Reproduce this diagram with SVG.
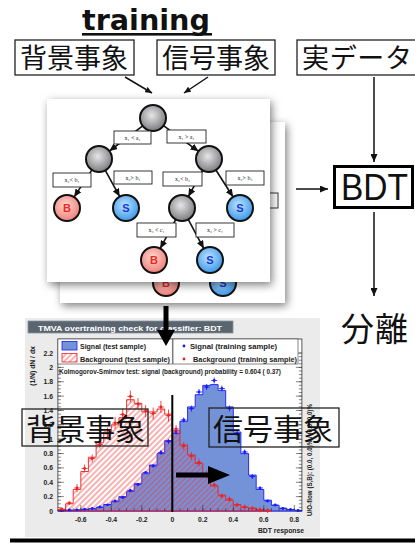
<svg xmlns="http://www.w3.org/2000/svg" width="415" height="543" viewBox="0 0 415 543">
<style>
.jp{font-family:"Noto Sans CJK JP","Noto Sans CJK SC",sans-serif;fill:#111}
.box{fill:none;stroke:#222;stroke-width:1.3}
.conn{stroke:#111;stroke-width:1.5;fill:none}
.edge{stroke:#111;stroke-width:1.6;fill:none}
.lbl{fill:#fff;stroke:#222;stroke-width:0.9}
.lt{font-family:"Liberation Serif",serif;font-size:6px;text-anchor:middle;fill:#222}
.gn{fill:url(#gGray);stroke:#111;stroke-width:2}
.bn{fill:url(#gPink);stroke:#111;stroke-width:2}
.sn{fill:url(#gBlue);stroke:#111;stroke-width:2}
.bl{font-family:"Liberation Sans",sans-serif;font-weight:bold;font-size:11px;text-anchor:middle;fill:#e82a20}
.sl{font-family:"Liberation Sans",sans-serif;font-weight:bold;font-size:11px;text-anchor:middle;fill:#1438d0}
.pt{font-family:"Liberation Sans",sans-serif;font-weight:bold;font-size:6.8px;fill:#222}
</style>
<defs>
<marker id="ah" viewBox="0 0 8 7" refX="8" refY="3.5" markerWidth="8" markerHeight="7" markerUnits="userSpaceOnUse" orient="auto"><path d="M0,0L8,3.5L0,7z" fill="#111"/></marker>
<marker id="ahs" viewBox="0 0 8 7" refX="8" refY="3.5" markerWidth="7" markerHeight="6" markerUnits="userSpaceOnUse" orient="auto"><path d="M0,0L8,3.5L0,7z" fill="#111"/></marker>
<radialGradient id="gGray" cx="0.45" cy="0.4" r="0.6"><stop offset="0" stop-color="#e6e6e6"/><stop offset="1" stop-color="#7c7c80"/></radialGradient>
<radialGradient id="gPink" cx="0.45" cy="0.4" r="0.6"><stop offset="0" stop-color="#ffd6d2"/><stop offset="1" stop-color="#ef8078"/></radialGradient>
<radialGradient id="gBlue" cx="0.45" cy="0.4" r="0.6"><stop offset="0" stop-color="#bfe4ff"/><stop offset="1" stop-color="#3c98ea"/></radialGradient>
<filter id="sh" x="-20%" y="-20%" width="140%" height="140%"><feDropShadow dx="2" dy="3" stdDeviation="4" flood-color="#000" flood-opacity="0.5"/></filter>
<pattern id="hatch" width="4" height="4" patternUnits="userSpaceOnUse" patternTransform="rotate(45)"><line x1="1" y1="0" x2="1" y2="4" stroke="#f03a3a" stroke-width="0.8"/></pattern>
</defs>

<g id="title">
<text x="82" y="30" font-family="DejaVu Sans" font-weight="bold" font-size="28" textLength="128" lengthAdjust="spacingAndGlyphs" fill="#111">training</text>
<rect x="82" y="33" width="130" height="2.6" fill="#111"/>
</g>

<g id="bg-events">
<rect class="box" x="15" y="40" width="119" height="35"/>
<text class="jp" x="20" y="68" font-size="27" textLength="108">背景事象</text>
</g>
<g id="sig-events">
<rect class="box" x="157" y="40" width="118" height="35"/>
<text class="jp" x="162" y="68" font-size="27" textLength="108">信号事象</text>
</g>
<g id="real-data">
<rect class="box" x="297" y="40" width="130" height="35"/>
<text class="jp" x="302" y="68" font-size="27" textLength="110">実データ</text>
</g>

<g id="tree-card">
<rect x="60" y="122" width="225" height="181" fill="#fff" filter="url(#sh)"/>
<rect class="lbl" x="255" y="193" width="23" height="15"/>
<circle class="bn" cx="166" cy="283" r="13"/><text class="bl" x="166" y="287">B</text>
<circle class="sn" cx="223" cy="283" r="13"/><text class="sl" x="223" y="287">S</text>
<rect x="47" y="99" width="223" height="183" fill="#fff" filter="url(#sh)"/>
<line class="edge" x1="142.7" y1="125.9" x2="109.3" y2="151.1" marker-end="url(#ah)"/>
<line class="edge" x1="163.5" y1="125.7" x2="198.5" y2="151.3" marker-end="url(#ah)"/>
<line class="edge" x1="91.9" y1="169.9" x2="74.1" y2="197.1" marker-end="url(#ah)"/>
<line class="edge" x1="105.3" y1="170.4" x2="119.7" y2="196.6" marker-end="url(#ah)"/>
<line class="edge" x1="202.7" y1="170.4" x2="188.3" y2="196.6" marker-end="url(#ah)"/>
<line class="edge" x1="215.9" y1="170" x2="233.1" y2="197" marker-end="url(#ah)"/>
<line class="edge" x1="175.8" y1="219.4" x2="160.2" y2="248.6" marker-end="url(#ah)"/>
<line class="edge" x1="188.2" y1="219.4" x2="203.8" y2="248.6" marker-end="url(#ah)"/>
<circle class="gn" cx="153" cy="118" r="13"/>
<circle class="gn" cx="99" cy="159" r="13"/>
<circle class="gn" cx="209" cy="159" r="13"/>
<circle class="gn" cx="182" cy="208" r="13"/>
<circle class="bn" cx="67" cy="208" r="13"/><text class="bl" x="67" y="212">B</text>
<circle class="sn" cx="126" cy="208" r="13"/><text class="sl" x="126" y="212">S</text>
<circle class="sn" cx="240" cy="208" r="13"/><text class="sl" x="240" y="212">S</text>
<circle class="bn" cx="154" cy="260" r="13"/><text class="bl" x="154" y="264">B</text>
<circle class="sn" cx="210" cy="260" r="13"/><text class="sl" x="210" y="264">S</text>
<rect class="lbl" x="114" y="131" width="37" height="13"/><text class="lt" x="132.5" y="140">x₁ &lt; a₁</text>
<rect class="lbl" x="167" y="130" width="39" height="13"/><text class="lt" x="186.5" y="139">x₁ &gt; a₁</text>
<rect class="lbl" x="53" y="173" width="38" height="14"/><text class="lt" x="72" y="182">x₂&lt; b₁</text>
<rect class="lbl" x="114" y="171" width="38" height="13"/><text class="lt" x="133" y="180">x₂&gt; b₁</text>
<rect class="lbl" x="163" y="172" width="39" height="14"/><text class="lt" x="182.5" y="181">x₂&lt; b₂</text>
<rect class="lbl" x="226" y="171" width="38" height="14"/><text class="lt" x="245" y="180">x₂&gt; b₂</text>
<rect class="lbl" x="137" y="223" width="39" height="14"/><text class="lt" x="156.5" y="232">x₃ &lt; c₁</text>
<rect class="lbl" x="196" y="223" width="38" height="14"/><text class="lt" x="215" y="232">x₃ &gt; c₁</text>
</g>

<g id="bdt">
<rect x="334.5" y="166.5" width="78" height="41" fill="#fff" stroke="#000" stroke-width="3"/>
<text x="341" y="200" font-family="Liberation Sans" font-size="36" textLength="67" lengthAdjust="spacingAndGlyphs" fill="#111">BDT</text>
</g>
<g id="separation">
<text class="jp" x="341" y="341" font-size="33" textLength="67">分離</text>
</g>

<g id="plot">
<rect x="25" y="318" width="295" height="219" fill="#ebebeb"/>
<rect x="28" y="321" width="205" height="12" fill="#5b6570" stroke="#8a939c" stroke-width="0.8"/>
<text x="38" y="330.5" font-family="Liberation Sans" font-weight="bold" font-size="8" textLength="184" lengthAdjust="spacingAndGlyphs" fill="#fff">TMVA overtraining check for classifier: BDT</text>
<rect x="57.9" y="339" width="244" height="172" fill="#fff" stroke="#333" stroke-width="0.8"/>
<path d="M57.9,511V510.6H65.6V510.3H73.2V510.3H80.8V509.6H88.4V508.8H96.1V507.4H103.7V504.5H111.3V501.7H118.9V496.6H126.6V491.6H134.2V483.7H141.8V473.7H149.4V465H157.1V453.6H164.7V440.6H172.3V433.5H179.9V421.3H187.6V406.9H195.2V394.7H202.8V385.4H210.4V384.6H218.1V390.4H225.7V406.9H233.3V432H240.9V453.6H248.6V475.1H256.2V489.5H263.8V500.2H271.4V505.3H279.1V508.1H286.7V509.6H294.3V510.3H301.9V511Z" fill="#7392d8" stroke="#1a1aff" stroke-width="0.9"/>
<path d="M57.9,511V509.6H65.6V503.8H73.2V489.5H80.8V471.5H88.4V457.2H96.1V442.8H103.7V432H111.3V424.8H118.9V417.7H126.6V399.7H134.2V403.3H141.8V411.9H149.4V411.9H157.1V409H164.7V414.1H172.3V430.6H179.9V444.9H187.6V455H195.2V463.6H202.8V473.7H210.4V485.9H218.1V495.2H225.7V500.2H233.3V504.5H240.9V507.4H248.6V508.1H256.2V509.6H263.8V510.3H271.4V511Z" fill="url(#hatch)" stroke="#f02020" stroke-width="0.9"/>
<path stroke="#1a1aff" stroke-width="0.8" fill="none" d="M58.7 510.6h6M61.7 509.8v1.6M66.4 510h6M69.4 509.2v1.6M74 509.8h6M77 509v1.6M81.6 509.2h6M84.6 508.4v1.6M89.2 508.5h6M92.2 507.7v1.6M96.9 507h6M99.9 506.2v1.6M104.5 504.8h6M107.5 504v1.6M112.1 501h6M115.1 500.2v1.6M119.7 497.5h6M122.7 496v3M127.4 490.5h6M130.4 489v3M135 484.5h6M138 483v3M142.6 472.5h6M145.6 471v3M150.2 466h6M153.2 464.5v3M157.9 452.5h6M160.9 450v5M165.5 441.5h6M168.5 439v5M173.1 432h6M176.1 429.5v5M180.7 420h6M183.7 417.5v5M188.4 408.5h6M191.4 405.5v6M196 392h6M199 389v6M203.6 387h6M206.6 384v6M211.2 380.5h6M214.2 377.5v6M218.9 388.5h6M221.9 385.5v6M226.5 408.5h6M229.5 405.5v6M234.1 433.5h6M237.1 431v5M241.7 452h6M244.7 449.5v5M249.4 476.5h6M252.4 474v5M257 488h6M260 487v2M264.6 501h6M267.6 500v2M272.2 505h6M275.2 504v2M279.9 508.5h6M282.9 507.5v2M287.5 509.5h6M290.5 508.5v2M295.1 510.5h6M298.1 509.5v2"/>
<path stroke="#1a1aff" stroke-width="2.8" stroke-linecap="round" fill="none" d="M61.7 510.6h0M69.4 510h0M77 509.8h0M84.6 509.2h0M92.2 508.5h0M99.9 507h0M107.5 504.8h0M115.1 501h0M122.7 497.5h0M130.4 490.5h0M138 484.5h0M145.6 472.5h0M153.2 466h0M160.9 452.5h0M168.5 441.5h0M176.1 432h0M183.7 420h0M191.4 408.5h0M199 392h0M206.6 387h0M214.2 380.5h0M221.9 388.5h0M229.5 408.5h0M237.1 433.5h0M244.7 452h0M252.4 476.5h0M260 488h0M267.6 501h0M275.2 505h0M282.9 508.5h0M290.5 509.5h0M298.1 510.5h0"/>
<path stroke="#f02020" stroke-width="0.8" fill="none" d="M58.7 509h6M61.7 507.5v3M66.4 503h6M69.4 501.5v3M74 488h6M77 484v8M81.6 468.5h6M84.6 464.5v8M89.2 458.5h6M92.2 454.5v8M96.9 444.5h6M99.9 440.5v8M104.5 433.5h6M107.5 427.5v12M112.1 423h6M115.1 417v12M119.7 414.5h6M122.7 408.5v12M127.4 396.5h6M130.4 390.5v12M135 404h6M138 398v12M142.6 411h6M145.6 405v12M150.2 413.5h6M153.2 407.5v12M157.9 407h6M160.9 401v12M165.5 415.5h6M168.5 409.5v12M173.1 429h6M176.1 425v8M180.7 446h6M183.7 442v8M188.4 456h6M191.4 452v8M196 462.5h6M199 458.5v8M203.6 474.5h6M206.6 470.5v8M211.2 485h6M214.2 482.5v5M218.9 496h6M221.9 493.5v5M226.5 499h6M229.5 496.5v5M234.1 505h6M237.1 502.5v5M241.7 507h6M244.7 504.5v5M249.4 508.5h6M252.4 506v5M257 509.8h6M260 507.3v5M264.6 510.5h6M267.6 508v5"/>
<path stroke="#f02020" stroke-width="2.8" stroke-linecap="round" fill="none" d="M61.7 509h0M69.4 503h0M77 488h0M84.6 468.5h0M92.2 458.5h0M99.9 444.5h0M107.5 433.5h0M115.1 423h0M122.7 414.5h0M130.4 396.5h0M138 404h0M145.6 411h0M153.2 413.5h0M160.9 407h0M168.5 415.5h0M176.1 429h0M183.7 446h0M191.4 456h0M199 462.5h0M206.6 474.5h0M214.2 485h0M221.9 496h0M229.5 499h0M237.1 505h0M244.7 507h0M252.4 508.5h0M260 509.8h0M267.6 510.5h0"/>
<path stroke="#333" stroke-width="0.6" fill="none" d="M57.9,511h6m-6,-14.36h6m-6,-14.36h6m-6,-14.36h6m-6,-14.36h6m-6,-14.36h6m-6,-14.36h6m-6,-14.36h6m-6,-14.36h6m-6,-14.36h6m-6,-14.36h6m-6,-14.36h6M301.9,511h-6m6,-14.36h-6m6,-14.36h-6m6,-14.36h-6m6,-14.36h-6m6,-14.36h-6m6,-14.36h-6m6,-14.36h-6m6,-14.36h-6m6,-14.36h-6m6,-14.36h-6m6,-14.36h-6M57.9,507.41h3m-3,-3.59h3m-3,-3.59h3m-3,-3.59h3m-3,-3.59h3m-3,-3.59h3m-3,-3.59h3m-3,-3.59h3m-3,-3.59h3m-3,-3.59h3m-3,-3.59h3m-3,-3.59h3m-3,-3.59h3m-3,-3.59h3m-3,-3.59h3m-3,-3.59h3m-3,-3.59h3m-3,-3.59h3m-3,-3.59h3m-3,-3.59h3m-3,-3.59h3m-3,-3.59h3m-3,-3.59h3m-3,-3.59h3m-3,-3.59h3m-3,-3.59h3m-3,-3.59h3m-3,-3.59h3m-3,-3.59h3m-3,-3.59h3m-3,-3.59h3m-3,-3.59h3m-3,-3.59h3m-3,-3.59h3m-3,-3.59h3m-3,-3.59h3m-3,-3.59h3m-3,-3.59h3m-3,-3.59h3m-3,-3.59h3m-3,-3.59h3m-3,-3.59h3m-3,-3.59h3m-3,-3.59h3m-3,-3.59h3m-3,-3.59h3M301.9,507.41h-3m3,-3.59h-3m3,-3.59h-3m3,-3.59h-3m3,-3.59h-3m3,-3.59h-3m3,-3.59h-3m3,-3.59h-3m3,-3.59h-3m3,-3.59h-3m3,-3.59h-3m3,-3.59h-3m3,-3.59h-3m3,-3.59h-3m3,-3.59h-3m3,-3.59h-3m3,-3.59h-3m3,-3.59h-3m3,-3.59h-3m3,-3.59h-3m3,-3.59h-3m3,-3.59h-3m3,-3.59h-3m3,-3.59h-3m3,-3.59h-3m3,-3.59h-3m3,-3.59h-3m3,-3.59h-3m3,-3.59h-3m3,-3.59h-3m3,-3.59h-3m3,-3.59h-3m3,-3.59h-3m3,-3.59h-3m3,-3.59h-3m3,-3.59h-3m3,-3.59h-3m3,-3.59h-3m3,-3.59h-3m3,-3.59h-3m3,-3.59h-3m3,-3.59h-3m3,-3.59h-3m3,-3.59h-3M80.8,511v-6m30.5,6v-6m30.5,6v-6m30.5,6v-6m30.5,6v-6m30.5,6v-6m30.5,6v-6m30.5,6v-6M65.55,511v-3m7.625,3v-3m7.625,3v-3m7.625,3v-3m7.625,3v-3m7.625,3v-3m7.625,3v-3m7.625,3v-3m7.625,3v-3m7.625,3v-3m7.625,3v-3m7.625,3v-3m7.625,3v-3m7.625,3v-3m7.625,3v-3m7.625,3v-3m7.625,3v-3m7.625,3v-3m7.625,3v-3m7.625,3v-3m7.625,3v-3m7.625,3v-3m7.625,3v-3m7.625,3v-3m7.625,3v-3m7.625,3v-3m7.625,3v-3m7.625,3v-3m7.625,3v-3m7.625,3v-3m7.625,3v-3"/>
<rect x="57.9" y="339" width="114.4" height="25" fill="#fff" stroke="#555" stroke-width="0.7"/>
<rect x="173" y="339" width="125" height="25" fill="#fff" stroke="#555" stroke-width="0.7"/>
<rect x="62" y="341.5" width="15" height="8.5" fill="#7392d8" stroke="#1a1aff" stroke-width="0.8"/>
<rect x="62" y="353.5" width="15" height="8.5" fill="url(#hatch)" stroke="#f02020" stroke-width="0.8"/>
<text class="pt" x="80" y="349" textLength="66" lengthAdjust="spacingAndGlyphs">Signal (test sample)</text>
<text class="pt" x="80" y="361.5" textLength="90" lengthAdjust="spacingAndGlyphs">Background (test sample)</text>
<circle cx="184" cy="346" r="1.4" fill="#1a1aff"/>
<circle cx="184" cy="359" r="1.4" fill="#f02020"/>
<text class="pt" x="190" y="349" textLength="87" lengthAdjust="spacingAndGlyphs">Signal (training sample)</text>
<text class="pt" x="193" y="361.5" textLength="104" lengthAdjust="spacingAndGlyphs">Background (training sample)</text>
<text class="pt" x="59" y="374" font-size="5.8" font-weight="normal" textLength="222" lengthAdjust="spacingAndGlyphs">Kolmogorov-Smirnov test: signal (background) probability = 0.604 ( 0.37)</text>
<g class="pt" text-anchor="end">
<text x="53" y="513.5">0</text><text x="53" y="499.1">0.2</text><text x="53" y="484.8">0.4</text><text x="53" y="470.4">0.6</text><text x="53" y="456.1">0.8</text><text x="53" y="441.7">1</text><text x="53" y="427.3">1.2</text><text x="53" y="413">1.4</text><text x="53" y="398.6">1.6</text><text x="53" y="384.3">1.8</text><text x="53" y="369.9">2</text><text x="53" y="355.5">2.2</text>
</g>
<g class="pt" text-anchor="middle">
<text x="80.8" y="522">-0.6</text><text x="111.3" y="522">-0.4</text><text x="141.8" y="522">-0.2</text><text x="172.3" y="522">0</text><text x="202.8" y="522">0.2</text><text x="233.3" y="522">0.4</text><text x="263.8" y="522">0.6</text><text x="294.3" y="522">0.8</text>
</g>
<text class="pt" x="304" y="533" text-anchor="end" font-size="7.2">BDT response</text>
<text class="pt" transform="translate(35,366) rotate(-90)" text-anchor="middle" font-size="7.2">(1/N) dN / dx</text>
<text class="pt" transform="translate(312,460) rotate(-90)" text-anchor="middle" font-size="5.2" font-weight="normal" textLength="112" lengthAdjust="spacingAndGlyphs">U/O-flow (S,B): (0.0, 0.0)% / (0.0, 0.0)%</text>
</g>

<g id="cut-line">
<line x1="172.3" y1="395" x2="172.3" y2="512" stroke="#000" stroke-width="2"/>
</g>

<g id="bg-overlay">
<rect class="box" x="22" y="409" width="126" height="37" stroke="#111"/>
<text class="jp" x="26" y="440" font-size="30" textLength="119">背景事象</text>
</g>
<g id="sig-overlay">
<rect class="box" x="209" y="408" width="130" height="39" stroke="#111"/>
<text class="jp" x="213" y="440" font-size="30" textLength="120">信号事象</text>
</g>

<g id="connectors">
<line class="conn" x1="125" y1="77" x2="152" y2="93" marker-end="url(#ahs)"/>
<line class="conn" x1="208" y1="77" x2="184" y2="93" marker-end="url(#ahs)"/>
<line class="conn" x1="374" y1="77" x2="374" y2="162" marker-end="url(#ah)"/>
<line class="conn" x1="296" y1="189" x2="328" y2="189" marker-end="url(#ah)"/>
<line class="conn" x1="374" y1="212" x2="374" y2="296" marker-end="url(#ah)"/>
<path d="M163.5,306H168.5V330H175L166,346L157,330H163.5Z" fill="#000"/>
<path d="M176,472.5H208V466L230,475L208,484V477.5H176Z" fill="#000"/>
</g>

<rect x="10" y="538.5" width="405" height="4" fill="#000"/>
</svg>
